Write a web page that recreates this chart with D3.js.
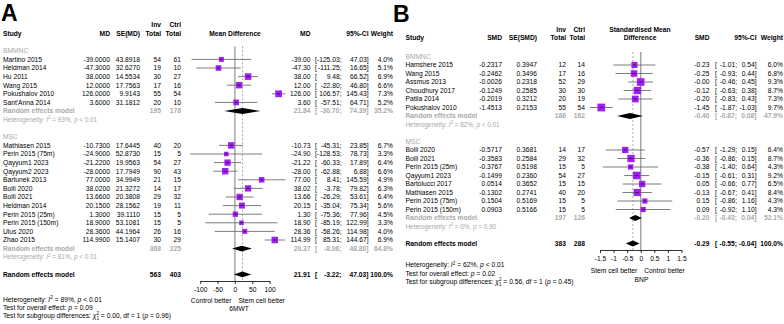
<!DOCTYPE html>
<html><head><meta charset="utf-8">
<script src="https://cdn.jsdelivr.net/npm/d3@7"></script>
<style>
body{margin:0;background:#fff;}
svg{display:block;font-family:"Liberation Sans",Arial,Helvetica,sans-serif;}
</style></head><body>
<svg id="chart" width="784" height="324"></svg>
<script>
// ================= DATA: Panel A (6MWT, mean difference) =================
const A_bmmnc_study = ["Martino 2015","Heldman 2014","Hu 2011","Wang 2015","Pokushalov 2010","Sant'Anna 2014"];
const A_bmmnc_md    = [-39.0000,-47.3000,38.0000,12.0000,126.0000,3.6000];
const A_bmmnc_se    = [43.8918,32.6270,14.5534,17.7563,9.9143,31.1812];
const A_bmmnc_inv   = [54,19,30,17,55,20];
const A_bmmnc_ctrl  = [61,10,27,16,54,10];
const A_bmmnc_lo    = [-125.03,-111.25,9.48,-22.80,106.57,-57.51];
const A_bmmnc_hi    = [47.03,16.65,66.52,46.80,145.43,64.71];
const A_bmmnc_w     = [4.0,5.1,6.9,6.6,7.3,5.2];

const A_msc_study = ["Mathiasen 2015","Perin 2015 (75m)","Qayyum1 2023","Qayyum2 2023","Bartunek 2013","Bolli 2020","Bolli 2021","Heldman 2014","Perin 2015 (25m)","Perin 2015 (150m)","Ulus 2020","Zhao 2015"];
const A_msc_md    = [-10.7300,-24.9000,-21.2200,-28.0000,77.0000,38.0200,13.6600,20.1500,1.3000,18.9000,28.3600,114.9900];
const A_msc_se    = [17.6445,52.8730,19.9563,17.7949,34.9949,21.3272,20.3808,28.1562,39.1110,53.1081,44.1964,15.1407];
const A_msc_inv   = [40,15,54,90,21,14,29,19,15,15,26,30];
const A_msc_ctrl  = [20,5,27,43,15,17,32,11,5,5,16,29];
const A_msc_lo    = [-45.31,-128.53,-60.33,-62.88,8.41,-3.78,-26.29,-35.04,-75.36,-85.19,-58.26,85.31];
const A_msc_hi    = [23.85,78.73,17.89,6.88,145.59,79.82,53.61,75.34,77.96,122.99,114.98,144.67];
const A_msc_w     = [6.7,3.3,6.4,6.6,4.9,6.3,6.4,5.6,4.5,3.3,4.0,6.9];

const A_groupNames = ["BMMNC","MSC"];
const A_groupInv   = [195,368];
const A_groupCtrl  = [178,225];
const A_groupEst   = [21.84,20.37];
const A_groupLo    = [-30.70,-8.06];
const A_groupHi    = [74.39,48.80];
const A_groupW     = [35.2,64.8];
const A_groupI2    = ["93%","81%"];
const A_groupP     = ["< 0.01","< 0.01"];

const A_overall    = [21.91,-3.22,47.03];   // estimate, lower, upper
const A_overallN   = [563,403];
const A_overallHet = ["89%","< 0.01"];
const A_overallP   = "0.09";
const A_subgroupTest = ["0.00","1","0.96"]; // chi2, df, p
const A_ticks      = [-100,-50,0,50,100];

// ================= DATA: Panel B (BNP, standardised mean difference) =================
const B_bmmnc_study = ["Hamshere 2015","Wang 2015","Assmus 2013","Choudhury 2017","Patila 2014","Pokushalov 2010"];
const B_bmmnc_md    = [-0.2317,-0.2462,-0.0026,-0.1249,-0.2019,-1.4513];
const B_bmmnc_se    = [0.3947,0.3496,0.2318,0.2585,0.3212,0.2153];
const B_bmmnc_inv   = [12,17,52,30,20,55];
const B_bmmnc_ctrl  = [14,16,29,30,19,54];
const B_bmmnc_lo    = [-1.01,-0.93,-0.46,-0.63,-0.83,-1.87];
const B_bmmnc_hi    = [0.54,0.44,0.45,0.38,0.43,-1.03];
const B_bmmnc_w     = [6.0,6.8,9.3,8.7,7.3,9.7];

const B_msc_study = ["Bolli 2020","Bolli 2021","Perin 2015 (25m)","Qayyum1 2023","Bartolucci 2017","Mathiasen 2015","Perin 2015 (75m)","Perin 2015 (150m)"];
const B_msc_md    = [-0.5717,-0.3583,-0.3767,-0.1499,0.0514,-0.1302,0.1504,0.0903];
const B_msc_se    = [0.3681,0.2584,0.5198,0.2360,0.3652,0.2741,0.5169,0.5166];
const B_msc_inv   = [14,29,15,54,15,40,15,15];
const B_msc_ctrl  = [17,32,5,27,15,20,5,5];
const B_msc_lo    = [-1.29,-0.86,-1.40,-0.61,-0.66,-0.67,-0.86,-0.92];
const B_msc_hi    = [0.15,0.15,0.64,0.31,0.77,0.41,1.16,1.10];
const B_msc_w     = [6.4,8.7,4.3,9.2,6.5,8.4,4.3,4.3];

const B_groupNames = ["BMMNC","MSC"];
const B_groupInv   = [186,197];
const B_groupCtrl  = [162,126];
const B_groupEst   = [-0.40,-0.20];
const B_groupLo    = [-0.87,-0.43];
const B_groupHi    = [0.08,0.04];
const B_groupW     = [47.9,52.1];
const B_groupI2    = ["82%","0%"];
const B_groupP     = ["< 0.01","= 0.90"];

const B_overall    = [-0.29,-0.55,-0.04];
const B_overallN   = [383,288];
const B_overallHet = ["62%","< 0.01"];
const B_overallP   = "0.02";
const B_subgroupTest = ["0.56","1","0.45"];
const B_ticks      = [-1.5,-1,-0.5,0,0.5,1,1.5];
const B_tickLabels = ["-1.5","-1","-0.5","0","0.5","1","1.5"];

// ================= build tables =================
function zipStudies(study, md, se, inv, ctrl, lo, hi, w) {
  return study.map((s, i) => ({study: s, md: md[i], se: se[i], inv: inv[i], ctrl: ctrl[i], lo: lo[i], hi: hi[i], w: w[i]}));
}
const A_groups = A_groupNames.map((n, i) => ({
  name: n,
  studies: i === 0 ? zipStudies(A_bmmnc_study, A_bmmnc_md, A_bmmnc_se, A_bmmnc_inv, A_bmmnc_ctrl, A_bmmnc_lo, A_bmmnc_hi, A_bmmnc_w)
                   : zipStudies(A_msc_study, A_msc_md, A_msc_se, A_msc_inv, A_msc_ctrl, A_msc_lo, A_msc_hi, A_msc_w),
  inv: A_groupInv[i], ctrl: A_groupCtrl[i], est: A_groupEst[i], lo: A_groupLo[i], hi: A_groupHi[i], w: A_groupW[i],
  i2: A_groupI2[i], p: A_groupP[i]
}));
const B_groups = B_groupNames.map((n, i) => ({
  name: n,
  studies: i === 0 ? zipStudies(B_bmmnc_study, B_bmmnc_md, B_bmmnc_se, B_bmmnc_inv, B_bmmnc_ctrl, B_bmmnc_lo, B_bmmnc_hi, B_bmmnc_w)
                   : zipStudies(B_msc_study, B_msc_md, B_msc_se, B_msc_inv, B_msc_ctrl, B_msc_lo, B_msc_hi, B_msc_w),
  inv: B_groupInv[i], ctrl: B_groupCtrl[i], est: B_groupEst[i], lo: B_groupLo[i], hi: B_groupHi[i], w: B_groupW[i],
  i2: B_groupI2[i], p: B_groupP[i]
}));

// ================= drawing =================
const svg = d3.select("#chart");
const FS = 6.7;
const GRAY = "#a9a9a9";
const SQ = "#a020f0";

function txt(g, x, y, s, anchor, opts) {
  opts = opts || {};
  return g.append("text").attr("x", x).attr("y", y).attr("dy", "0.35em")
    .attr("text-anchor", anchor || "start")
    .attr("font-size", opts.size || FS)
    .attr("font-weight", opts.bold ? "bold" : null)
    .attr("fill", opts.color || "#000")
    .text(s);
}

function hetText(g, x, y, i2, p, color, size) {
  const t = g.append("text").attr("x", x).attr("y", y).attr("dy", "0.35em")
    .attr("font-size", size).attr("fill", color);
  t.append("tspan").text("Heterogeneity: ");
  t.append("tspan").attr("font-style", "italic").text("I");
  t.append("tspan").attr("font-size", size * 0.7).attr("dy", -size * 0.4).text("2");
  t.append("tspan").attr("dy", size * 0.4).text(" = " + i2 + ", ");
  t.append("tspan").attr("font-style", "italic").text("p");
  t.append("tspan").text(" " + p);
}

function drawPanel(cfg) {
  const g = svg.append("g");
  const c = cfg.cols;
  const x = d3.scaleLinear().domain([cfg.ticks[0], cfg.ticks[cfg.ticks.length - 1]]).range(cfg.xRange);
  const y = d3.scaleLinear().domain([0, 1]).range([cfg.y0, cfg.y0 + cfg.step]);
  const fmt = (v, d) => v.toFixed(d);

  // panel letter
  g.append("text").attr("x", cfg.letterX).attr("y", cfg.letterY)
    .attr("font-size", 23).attr("font-weight", "bold").text(cfg.letter);

  // headers
  const h1 = cfg.headY - cfg.step, h2 = cfg.headY;
  txt(g, c.study, h2, "Study", "start", {bold: true});
  txt(g, c.est, h2, cfg.estLabel, "end", {bold: true});
  txt(g, c.se, h2, cfg.seLabel, "end", {bold: true});
  txt(g, c.inv, h1, "Inv", "end", {bold: true});
  txt(g, c.inv, h2, "Total", "end", {bold: true});
  txt(g, c.ctrl, h1, "Ctrl", "end", {bold: true});
  txt(g, c.ctrl, h2, "Total", "end", {bold: true});
  cfg.plotTitle.forEach((t, i) => {
    txt(g, cfg.titleX, cfg.plotTitle.length === 1 ? h2 : (i === 0 ? h1 : h2), t, "middle", {bold: true});
  });
  txt(g, c.est2, h2, cfg.estLabel, "end", {bold: true});
  txt(g, c.ciHi, h2, "95%-CI", "end", {bold: true});
  txt(g, c.w, h2, "Weight", "end", {bold: true});

  // row layout
  const rows = [];
  let r = 0;
  cfg.groups.forEach((grp, gi) => {
    rows.push({type: "label", idx: r++, grp});
    grp.studies.forEach(s => rows.push({type: "study", idx: r++, s}));
    rows.push({type: "sub", idx: r++, grp});
    rows.push({type: "het", idx: r++, grp});
    r++; // blank row
  });
  const overallIdx = r;
  const axisY = y(overallIdx) + cfg.axisGap;

  // reference lines
  g.append("line").attr("x1", x(0)).attr("x2", x(0)).attr("y1", y(0) - 4.5).attr("y2", axisY)
    .attr("stroke", "#9a9a9a").attr("stroke-width", 1.3);
  g.append("line").attr("x1", x(cfg.overall[0])).attr("x2", x(cfg.overall[0]))
    .attr("y1", y(0) - 4.5).attr("y2", axisY)
    .attr("stroke", "#8a8a8a").attr("stroke-width", 0.7).attr("stroke-dasharray", "2,2");

  const ciText = (yy, lo, hi, color, bold) => {
    txt(g, c.ciL, yy, "[", "start", {color, bold});
    txt(g, c.ciLo, yy, fmt(lo, 2) + ";", "end", {color, bold});
    txt(g, c.ciHi, yy, fmt(hi, 2) + "]", "end", {color, bold});
  };
  const diamond = (yy, est, lo, hi) => {
    const hh = 2.9;
    g.append("polygon")
      .attr("points", [[x(lo), yy], [x(est), yy - hh], [x(hi), yy], [x(est), yy + hh]].map(p => p.join(",")).join(" "))
      .attr("fill", "#000");
  };

  rows.forEach(row => {
    const yy = y(row.idx);
    if (row.type === "label") {
      txt(g, c.study, yy, row.grp.name, "start", {color: GRAY});
    } else if (row.type === "study") {
      const s = row.s;
      txt(g, c.study, yy, s.study);
      txt(g, c.est, yy, fmt(s.md, 4), "end");
      txt(g, c.se, yy, fmt(s.se, 4), "end");
      txt(g, c.inv, yy, s.inv, "end");
      txt(g, c.ctrl, yy, s.ctrl, "end");
      txt(g, c.est2, yy, fmt(s.md, 2), "end");
      ciText(yy, s.lo, s.hi, "#000", false);
      txt(g, c.w, yy, fmt(s.w, 1) + "%", "end");
      // CI line
      g.append("line").attr("x1", x(s.lo)).attr("x2", x(s.hi)).attr("y1", yy).attr("y2", yy)
        .attr("stroke", "#6e6e6e").attr("stroke-width", 0.9);
      const side = cfg.sqK * Math.sqrt(s.w);
      g.append("rect").attr("x", x(s.md) - side / 2).attr("y", yy - side / 2)
        .attr("width", side).attr("height", side).attr("fill", SQ);
      g.append("line").attr("x1", x(s.md) - side * 0.25).attr("x2", x(s.md) + side * 0.25)
        .attr("y1", yy).attr("y2", yy).attr("stroke", "#2a0040").attr("stroke-width", 0.8);
    } else if (row.type === "sub") {
      const grp = row.grp;
      txt(g, c.study, yy, "Random effects model", "start", {color: GRAY, bold: true});
      txt(g, c.inv, yy, grp.inv, "end", {color: GRAY, bold: true});
      txt(g, c.ctrl, yy, grp.ctrl, "end", {color: GRAY, bold: true});
      txt(g, c.est2, yy, fmt(grp.est, 2), "end", {color: GRAY, bold: true});
      ciText(yy, grp.lo, grp.hi, GRAY, true);
      txt(g, c.w, yy, fmt(grp.w, 1) + "%", "end", {color: GRAY, bold: true});
      diamond(yy, grp.est, grp.lo, grp.hi);
    } else if (row.type === "het") {
      hetText(g, c.study, yy, row.grp.i2, row.grp.p, GRAY, FS * 0.95);
    }
  });

  // overall row
  const yo = y(overallIdx);
  txt(g, c.study, yo, "Random effects model", "start", {bold: true});
  txt(g, c.inv, yo, cfg.overallN[0], "end", {bold: true});
  txt(g, c.ctrl, yo, cfg.overallN[1], "end", {bold: true});
  txt(g, c.est2, yo, fmt(cfg.overall[0], 2), "end", {bold: true});
  ciText(yo, cfg.overall[1], cfg.overall[2], "#000", true);
  txt(g, c.w, yo, "100.0%", "end", {bold: true});
  diamond(yo, cfg.overall[0], cfg.overall[1], cfg.overall[2]);

  // axis
  const axis = d3.axisBottom(x).tickValues(cfg.ticks).tickSizeInner(3).tickSizeOuter(0)
    .tickFormat((d, i) => cfg.tickLabels[i]);
  const ax = g.append("g").attr("transform", `translate(0,${axisY})`).call(axis);
  ax.select(".domain").attr("stroke", "#000").attr("stroke-width", 0.8);
  ax.selectAll(".tick line").attr("stroke", "#000").attr("stroke-width", 0.8);
  ax.selectAll(".tick text").attr("font-size", FS).attr("font-family", null).attr("y", 6).attr("dy", "0.71em").attr("fill", "#000");
  txt(g, x(0) - 3.5, axisY + cfg.lrGap, cfg.leftLab, "end");
  txt(g, x(0) + 3.5, axisY + cfg.lrGap, cfg.rightLab, "start");
  txt(g, cfg.xlabX, axisY + cfg.lrGap + 8.3, cfg.xlab, "middle");

  // bottom statistics
  const yb = cfg.bottomY;
  hetText(g, c.study, yb, cfg.overallHet[0], cfg.overallHet[1], "#000", FS);
  const t2 = g.append("text").attr("x", c.study).attr("y", yb + 8.2).attr("dy", "0.35em").attr("font-size", FS);
  t2.append("tspan").text("Test for overall effect:  ");
  t2.append("tspan").attr("font-style", "italic").text("p");
  t2.append("tspan").text(" = " + cfg.overallP);
  const t3 = g.append("text").attr("x", c.study).attr("y", yb + 16.6).attr("dy", "0.35em").attr("font-size", FS);
  t3.append("tspan").text("Test for subgroup differences: ");
  t3.append("tspan").attr("font-style", "italic").text("χ");
  t3.append("tspan").attr("font-size", FS * 0.68).attr("dy", -FS * 0.45).text("2");
  t3.append("tspan").attr("font-size", FS * 0.68).attr("dx", -FS * 0.38).attr("dy", FS * 0.75).text("1");
  t3.append("tspan").attr("dy", -FS * 0.3).text(" = " + cfg.subTest[0] + ", df = " + cfg.subTest[1] + " (");
  t3.append("tspan").attr("font-style", "italic").text("p");
  t3.append("tspan").text(" = " + cfg.subTest[2] + ")");
}

drawPanel({
  letter: "A", letterX: 1, letterY: 20.5,
  groups: A_groups, overall: A_overall, overallN: A_overallN, overallHet: A_overallHet,
  overallP: A_overallP, subTest: A_subgroupTest,
  ticks: A_ticks, tickLabels: A_ticks.map(String),
  xRange: [200.2, 269.6],
  y0: 50.8, step: 8.6, headY: 33.2, axisGap: 6.6, lrGap: 19.5,
  cols: {study: 3, est: 110, se: 140, inv: 161, ctrl: 181, est2: 310.5, ciL: 315, ciLo: 341.5, ciHi: 368.5, w: 393},
  estLabel: "MD", seLabel: "SE(MD)", plotTitle: ["Mean Difference"], titleX: 235,
  leftLab: "Control better", rightLab: "Stem cell better", xlab: "6MWT", xlabX: 239,
  sqK: 2.5, bottomY: 299.3
});

drawPanel({
  letter: "B", letterX: 393, letterY: 21.5,
  groups: B_groups, overall: B_overall, overallN: B_overallN, overallHet: B_overallHet,
  overallP: B_overallP, subTest: B_subgroupTest,
  ticks: B_ticks, tickLabels: B_tickLabels,
  xRange: [600, 681.5],
  y0: 56.5, step: 8.5, headY: 38, axisGap: 6.5, lrGap: 21,
  cols: {study: 405.5, est: 502, se: 537, inv: 566, ctrl: 585, est2: 709.5, ciL: 715, ciLo: 737, ciHi: 756.5, w: 783},
  estLabel: "SMD", seLabel: "SE(SMD)", plotTitle: ["Standardised Mean", "Difference"], titleX: 640,
  leftLab: "Stem cell better", rightLab: "Control better", xlab: "BNP", xlabX: 641.5,
  sqK: 2.5, bottomY: 265
});
</script>
</body></html>
